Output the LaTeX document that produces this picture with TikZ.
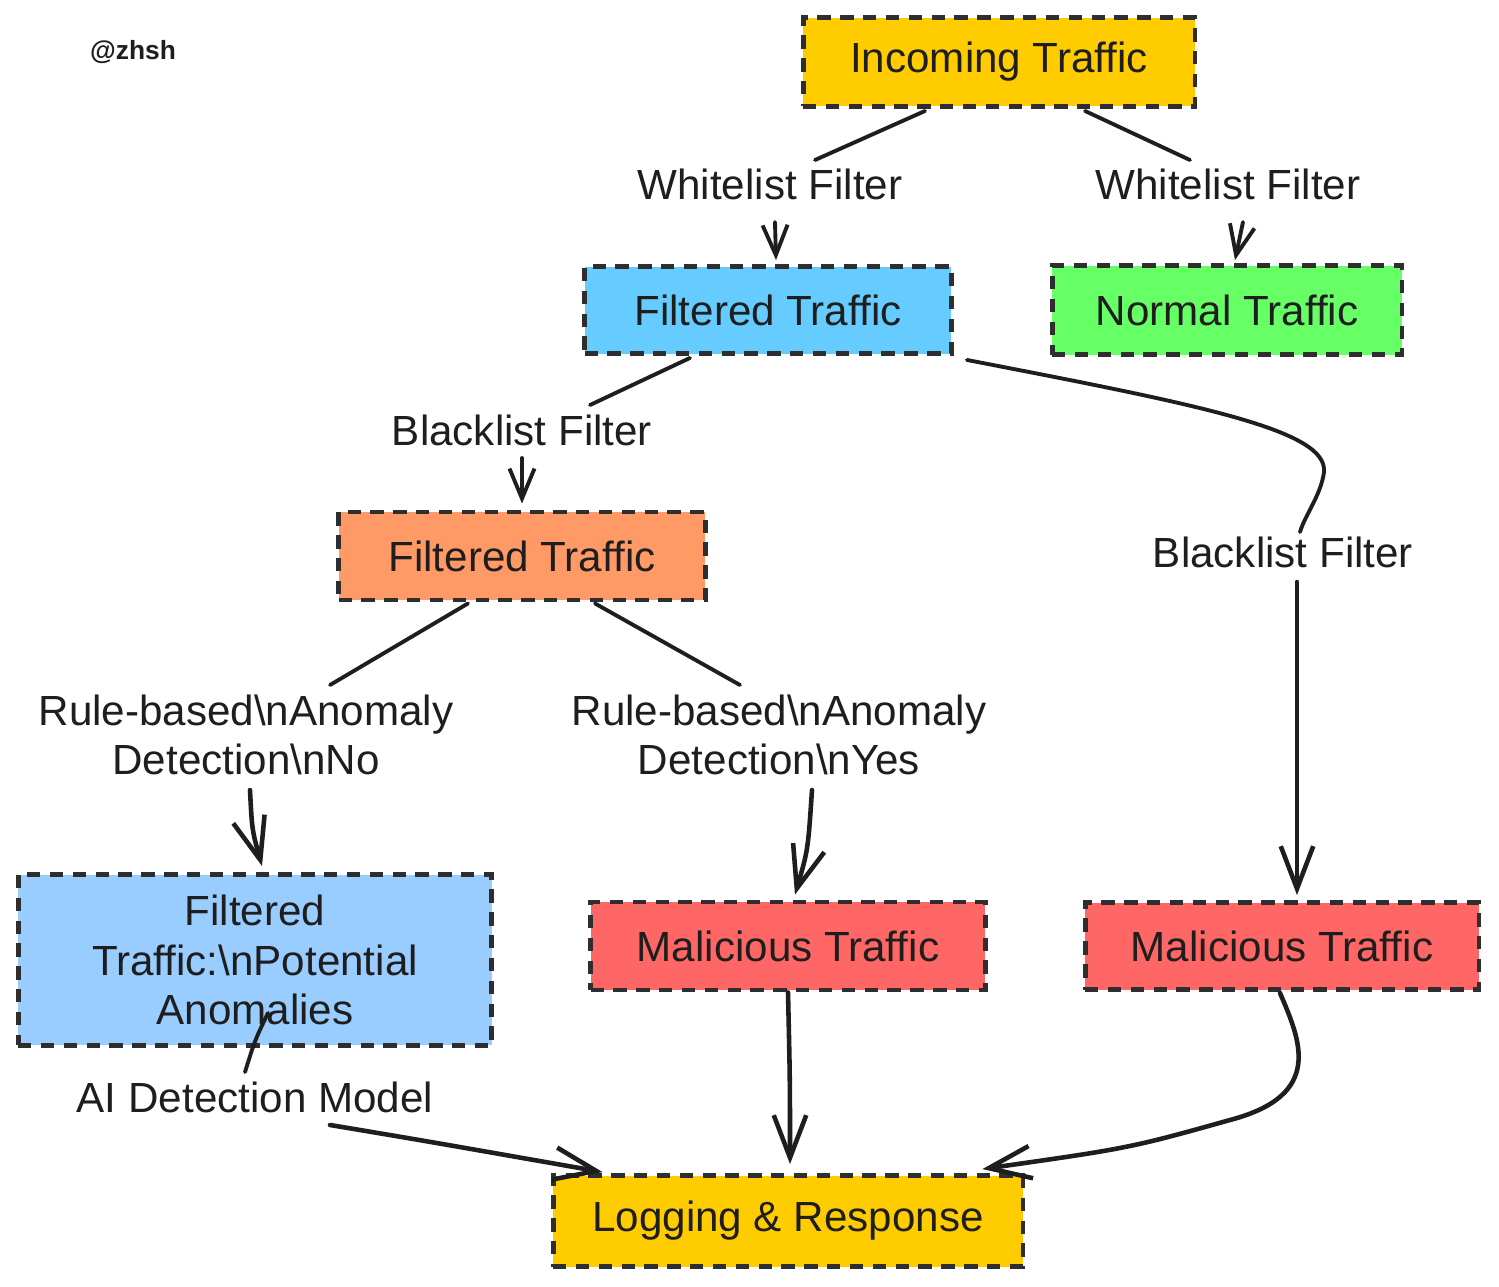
\documentclass[tikz,border=0pt]{standalone}
\usepackage{fontspec}
\setmainfont{Liberation Sans}
\usetikzlibrary{arrows.meta,calc}
\definecolor{cyellow}{HTML}{FFCC00}
\definecolor{cblue}{HTML}{66CCFF}
\definecolor{cgreen}{HTML}{66FF66}
\definecolor{corange}{HTML}{FF9966}
\definecolor{clblue}{HTML}{99CCFF}
\definecolor{cred}{HTML}{FF6666}
\definecolor{ink}{HTML}{1E1E1E}
\definecolor{edge}{HTML}{2E2E2E}
\begin{document}
\begin{tikzpicture}[x=0.02cm,y=-0.02cm,
  box/.style={draw=edge, line width=2.8pt, dash pattern=on 7.6pt off 5.4pt,
    inner sep=0pt, align=center, text=ink, font=\fontsize{24}{28}\selectfont},
  lab/.style={inner sep=0pt, align=center, text=ink, font=\fontsize{24}{28}\selectfont},
  conn/.style={draw=ink, line width=2.2pt, line cap=round, line join=round},
  arrsmall/.style={conn, -{Straight Barb[length=0.6cm,width=0.5cm]}},
  arrbig/.style={conn, line width=2.6pt, -{Straight Barb[length=0.85cm,width=0.65cm]}}]
\fill[white] (0,0) rectangle (1499,1286);
\useasboundingbox (0,0) rectangle (1499,1286);

\node[text=ink, font=\fontsize{15}{18}\selectfont\bfseries] (sig) at (133,52) {@zhsh};

% nodes
\node[box, fill=cyellow, minimum width=7.84cm, minimum height=1.78cm] (in) at (999,62) {Incoming Traffic};
\node[box, fill=cblue, minimum width=7.34cm, minimum height=1.74cm] (fb) at (768,310) {Filtered Traffic};
\node[box, fill=cgreen, minimum width=7.0cm, minimum height=1.78cm] (nt) at (1227,310) {Normal Traffic};
\node[box, fill=corange, minimum width=7.34cm, minimum height=1.76cm] (ob) at (522,556) {Filtered Traffic};
\node[box, fill=clblue, minimum width=9.48cm, minimum height=3.42cm] (lb) at (255,960) {Filtered\\Traffic:\textbackslash{}nPotential\\Anomalies};
\node[box, fill=cred, minimum width=7.9cm, minimum height=1.76cm] (mm) at (788,946) {Malicious Traffic};
\node[box, fill=cred, minimum width=7.88cm, minimum height=1.74cm] (mr) at (1282,946) {Malicious Traffic};
\node[box, fill=cyellow, minimum width=9.4cm, minimum height=1.82cm] (lr) at (788,1221) {Logging \& Response};

% edge labels
\node[lab] (wl1) at (770,184) {Whitelist Filter};
\node[lab] (wl2) at (1228,184) {Whitelist Filter};
\node[lab] (bl1) at (522,430) {Blacklist Filter};
\node[lab] (bl2) at (1283,552) {Blacklist Filter};
\node[lab] (rbn) at (246,735) {Rule-based\textbackslash{}nAnomaly\\Detection\textbackslash{}nNo};
\node[lab] (rby) at (779,735) {Rule-based\textbackslash{}nAnomaly\\Detection\textbackslash{}nYes};
\node[lab] (ai) at (255,1097) {AI Detection Model};

% connectors
\draw[conn] ($(in.south)+(-74,2)$) -- ($(wl1)+(45,-24)$);
\draw[arrsmall] ($(wl1)+(5,38)$) -- ($(fb.north)+(8,-4)$);

\draw[conn] ($(in.south)+(86,2)$) -- ($(wl2)+(-38,-24)$);
\draw[arrsmall] ($(wl2)+(15,38)$) -- ($(nt.north)+(8,-3)$);

\draw[conn] ($(fb.south)+(-78,2)$) -- ($(bl1)+(68,-25)$);
\draw[arrsmall] ($(bl1)+(0,28)$) -- ($(ob.north)+(0,-6)$);

\draw[conn] ($(fb.south east)+(13,4)$) .. controls (1200,405) and (1328,430) .. (1324,472)
   .. controls (1321,495) and (1305,515) .. ($(bl2)+(17,-20)$);
\draw[arrbig] ($(bl2)+(14,30)$) -- ($(mr.north)+(15,-5)$);

\draw[conn] ($(ob.south)+(-54,1)$) -- ($(rbn)+(84,-50)$);
\draw[arrbig] ($(rbn)+(4,55)$) .. controls (252,830) .. ($(lb.north)+(7,-6)$);

\draw[conn] ($(ob.south)+(73,1)$) -- ($(rby)+(-39,-50)$);
\draw[arrbig] ($(rby)+(33,55)$) .. controls (808,850) .. ($(mm.north)+(7,-5)$);

\draw[conn] ($(lb.south)+(13,-35)$) .. controls (255,1040) .. ($(ai)+(-10,-25)$);
\draw[arrbig] ($(ai)+(75,28)$) .. controls (420,1140) .. ($(lr.north west)+(52,-1)$);

\draw[arrbig] (mm.south) .. controls (790,1080) .. ($(lr.north)+(2,-9)$);

\draw[arrbig] ($(mr.south)+(-2,1)$) .. controls (1300,1040) and (1325,1095) .. (1230,1120)
   .. controls (1130,1148) .. ($(lr.north east)+(-43,-4)$);
\end{tikzpicture}
\end{document}
